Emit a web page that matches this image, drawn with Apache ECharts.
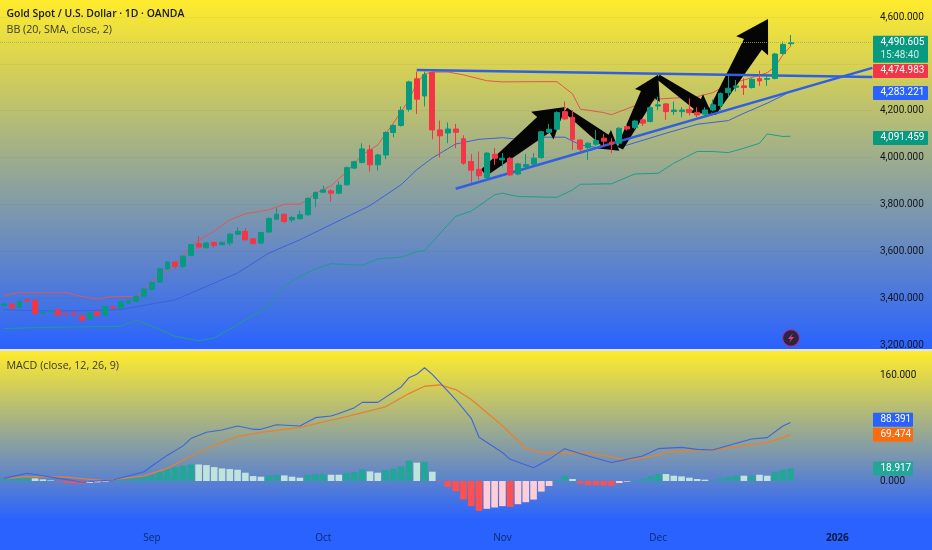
<!DOCTYPE html>
<html><head><meta charset="utf-8">
<style>html,body{margin:0;padding:0;background:#2962ff}#c{width:932px;height:550px}</style>
<script src="https://cdn.jsdelivr.net/npm/echarts@6/dist/echarts.min.js"></script>
</head><body><div id="c"></div>
<script>
const tradingDays = [
'08-05','08-06','08-07','08-08','08-11','08-12','08-13','08-14','08-15','08-18','08-19','08-20','08-21','08-22','08-25','08-26','08-27','08-28','08-29',
'09-01','09-02','09-03','09-04','09-05','09-08','09-09','09-10','09-11','09-12','09-15','09-16','09-17','09-18','09-19','09-22','09-23','09-24','09-25','09-26','09-29','09-30',
'10-01','10-02','10-03','10-06','10-07','10-08','10-09','10-10','10-13','10-14','10-15','10-16','10-17','10-20','10-21','10-22','10-23','10-24','10-27','10-28','10-29','10-30','10-31',
'11-03','11-04','11-05','11-06','11-07','11-10','11-11','11-12','11-13','11-14','11-17','11-18','11-19','11-20','11-21','11-24','11-25','11-26','11-27','11-28',
'12-01','12-02','12-03','12-04','12-05','12-08','12-09','12-10','12-11','12-12','12-15','12-16','12-17','12-18','12-19','12-22','12-23','12-24','12-25','12-26','12-29','12-30','12-31',
'01-01','01-02','01-05','01-06','01-07'];
const monthTicks = {'09-01':'Sep','10-01':'Oct','11-03':'Nov','12-01':'Dec','01-01':'2026'};
const priceTicks = [3200,3400,3600,3800,4000,4200,4600];
const macdTicks = [0,160];
// open, close, low, high
const candles = [
[3369,3375,3365,3380],[3375,3358,3352,3378],[3361,3386,3358,3390],[3393,3388,3385,3398],[3390,3334,3330,3394],
[3337,3341,3334,3344],[3344,3347,3341,3350],[3350,3327,3322,3353],[3332,3330,3327,3338],[3335,3330,3326,3345],
[3325,3305,3302,3328],[3311,3337,3308,3340],[3342,3327,3323,3345],[3327,3364,3324,3368],[3362,3357,3354,3365],
[3358,3384,3355,3388],[3378,3389,3375,3392],[3386,3408,3383,3411],[3408,3439,3405,3443],[3437,3467,3434,3470],
[3469,3525,3465,3530],[3525,3554,3522,3557],[3554,3536,3525,3557],[3536,3579,3528,3582],[3582,3628,3578,3632],
[3632,3618,3612,3666],[3616,3635,3610,3640],[3638,3625,3615,3642],[3628,3638,3625,3642],[3635,3673,3625,3677],
[3673,3685,3670,3702],[3685,3649,3646,3699],[3653,3633,3630,3657],[3635,3680,3632,3683],[3682,3740,3680,3745],
[3737,3758,3733,3784],[3758,3727,3720,3762],[3734,3744,3724,3750],[3739,3756,3735,3773],[3756,3826,3752,3830],
[3825,3851,3788,3856],[3852,3862,3848,3879],[3858,3848,3812,3864],[3848,3882,3843,3898],[3884,3957,3880,3962],
[3955,3982,3950,3986],[3979,4037,3975,4061],[4033,3969,3940,4054],[3969,4011,3945,4016],[4011,4107,3993,4112],
[4107,4137,4087,4141],[4137,4202,4132,4218],[4206,4323,4196,4328],[4336,4249,4186,4367],[4263,4354,4218,4367],
[4363,4118,4078,4367],[4118,4093,4001,4158],[4105,4122,4061,4150],[4122,4108,4040,4144],[4080,3976,3969,4095],
[3983,3946,3891,4016],[3950,3923,3905,4026],[3915,4019,3908,4024],[4014,3997,3969,4040],[3990,3997,3962,4019],
[3997,3926,3922,4002],[3930,3973,3924,3978],[3962,3970,3955,4016],[3972,3997,3968,4019],[4000,4110,3995,4114],
[4108,4121,4100,4144],[4121,4192,4115,4197],[4196,4165,4160,4239],[4172,4078,4033,4203],[4075,4036,4026,4078],
[4043,4061,3990,4066],[4057,4073,4050,4118],[4083,4070,4050,4100],[4066,4057,4019,4083],[4061,4125,4050,4130],
[4132,4122,4115,4140],[4128,4156,4122,4160],[4161,4147,4135,4165],[4154,4213,4150,4218],[4220,4225,4203,4260],
[4229,4196,4161,4233],[4196,4203,4182,4239],[4196,4203,4172,4215],[4206,4192,4180,4253],[4193,4182,4172,4215],
[4185,4203,4170,4215],[4203,4225,4198,4248],[4222,4274,4203,4278],[4277,4296,4260,4352],[4300,4306,4282,4331],
[4306,4299,4267,4338],[4299,4334,4295,4338],[4337,4327,4306,4371],[4334,4337,4306,4357],[4338,4442,4334,4447],
[4444,4483,4440,4495],[4486,4490.605,4475,4523]];
// Bollinger bands: [bar, value] read at the visible bends
const bbUpper = [[0,3412],[2,3424],[8,3424],[10,3406],[12,3397],[14,3406],[17,3407],[18,3436],[19,3469],[20,3500],[21,3521],[22,3540],[23,3578],[24,3620],[25,3646],[27,3687],[29,3734],[31,3760],[34,3777],[36,3801],[38,3801],[39,3820],[40,3848],[42,3879],[44,3940],[46,4011],[48,4054],[50,4147],[52,4246],[53,4317],[54,4357],[55,4365],[57,4365],[59,4353],[62,4328],[64,4323],[68,4324],[71,4324],[73,4272],[74,4207],[77,4192],[78,4183],[81,4221],[84,4250],[89,4260],[91,4277],[93,4314],[95,4331],[98,4362],[99,4388],[100,4438],[101,4475]];
const bbBasis = [[0,3351],[4,3346],[10,3346],[15,3351],[18,3369],[22,3393],[25,3436],[30,3507],[34,3592],[38,3649],[42,3714],[47,3795],[51,3884],[53,3948],[55,3998],[58,4058],[61,4078],[64,4085],[66,4078],[69,4087],[72,4087],[74,4054],[77,4038],[79,4043],[85,4104],[89,4142],[93,4158],[95,4189],[98,4232],[100,4265],[101,4283]];
const bbLower = [[0,3270],[5,3275],[15,3280],[17,3306],[19,3280],[22,3237],[25,3218],[27,3230],[30,3287],[34,3365],[36,3450],[38,3493],[40,3524],[42,3547],[46,3540],[48,3568],[51,3575],[53,3599],[54,3602],[56,3677],[58,3749],[60,3772],[61,3794],[63,3841],[64,3848],[66,3834],[71,3830],[73,3862],[74,3886],[78,3888],[81,3930],[84,3933],[86,3976],[89,4026],[91,4026],[93,4021],[95,4040],[97,4061],[98,4101],[100,4090],[101,4091]];
// Drawn trend lines: [fractional bar, price]
const trendFlat = [[53,4374],[111.5,4344]];
const trendRise = [[58,3867],[111.5,4383]];
// Drawn arrows: tail bar, tail price, tip bar, tip price
const arrows = [[61.6,3935,72.1,4216],[72.1,4203,79,4029],[79.1,4041,84,4353],[84,4344,90.9,4186],[90.9,4191,98.1,4591]];
const macdLine = [[0,4],[1,6.6],[3,11.6],[5,8],[7,4],[9,0.5],[10,-2],[12,0],[14,1.5],[16,8],[18,14],[19,22.7],[21,39],[23,53],[24,64],[26,73.5],[28,77],[30,83],[32,78],[33,78],[35,85],[38,83],[40,95.6],[42,98],[43,102],[45,110.7],[46,118.7],[48,118.7],[51,142],[52,156],[53,161],[54,171],[55,161],[58,123],[60,94.6],[61,66],[64,43],[65,32.7],[68,20],[70,32.7],[72,48.8],[75,37.7],[78,28],[80,32.7],[82,37.7],[84,48.8],[87,50.8],[89,47.8],[91,46.8],[94,56.9],[96,63.4],[98,65.4],[100,83],[101,88.391]];
const macdSignal = [[0,4],[3,6.6],[8,6],[10,3.5],[13,0.5],[18,7.6],[21,19],[24,37.7],[27,54],[30,67],[33,73.5],[36,78],[38,81],[44,97],[49,112],[52,132],[54,143],[56,145],[58,138],[60,123],[64,83.5],[67,49.3],[69,42.8],[72,43.3],[75,41.8],[78,36.7],[80,31.7],[83,36.7],[85,43.3],[89,46.8],[91,46.8],[94,51.8],[98,57.9],[101,69.474]];
const macdHist = [3,3.5,4,5,4,2.5,1,-1,-3,-3.5,-4,-3,-2,-1,0.5,2,3,5,6.5,9,14,19,21,23,25,25,24,21,19,18,17,12.5,7.5,6.5,8,9,8.5,6.5,5,9,10,10.5,9.5,9.5,12,13.5,17.5,14.5,12.5,16.5,18.5,22,30.7,27.7,29,14,-0.8,-9,-15.6,-28,-38,-45,-42,-40,-38,-39,-35,-32,-28,-16,-7.5,2,8,3,-4,-6,-6,-6.5,-7,-3,-1,1,3,7,10.5,10.5,8,7,5,3,2,1,3.5,6,8,8,8,9.5,8,14,17,18.917];
// t = teal, l = light teal, r = red, p = pink: one letter per histogram bar
const macdTone = 'tttt'+'lll'+'rrrr'+'ppp'+'ttttttttttt'+'lllllllll'+'tt'+'lll'+'ttt'+'ll'+'ttt'+'ll'+'tttt'+'l'+'t'+'l'+'rrrrrr'+'ppp'+'r'+'ppppp'+'tt'+'l'+'rrrrr'+'pp'+'tttt'+'llllll'+'tttt'+'l'+'t'+'ll'+'ttt';
const toneColor = {t:'#22a698',l:'#c0e3dc',r:'#ff4f4f',p:'#ffcdd6'};
// Price-scale tags
const priceTagAt = [4490.605,4370,4276,4084];
const priceTagText = ['4,490.605','4,474.983','4,283.221','4,091.459'];
const priceTagColor = ['#089981','#f23645','#2962ff','#089981'];
const macdTagAt = [92.5,69.8,18.9];
const macdTagText = ['88.391','69.474','18.917'];
const macdTagColor = ['#2962ff','#f96d10','#22a698'];

const FONT = '"Open Sans",sans-serif', NUMFONT = 'Roboto,sans-serif';
const W = 7.8, BARS = tradingDays.length;
const gridW = W*BARS, gridL = -1.2;
const Y = '#ffeb2d', B = '#2962ff';
const grad = ()=>new echarts.graphic.LinearGradient(0,0,0,1,[{offset:0,color:Y},{offset:1,color:B}]);
const money = v=>v.toLocaleString('en-US',{minimumFractionDigits:3,maximumFractionDigits:3});

function arrowItem(params, api){
  const a = api.coord([api.value(0),api.value(1)]), b = api.coord([api.value(2),api.value(3)]);
  const dx=b[0]-a[0], dy=b[1]-a[1], L=Math.hypot(dx,dy), ux=dx/L, uy=dy/L, nx=-uy, ny=ux;
  const hl=0.27*L, hw=0.17*L, nw=0.095*L, tw=0.04*L;
  const p=(t,s)=>[a[0]+ux*t+nx*s, a[1]+uy*t+ny*s];
  return {type:'polygon',shape:{points:[p(0,tw),p(L-hl,nw),p(L-hl*1.05,hw),p(L,0),p(L-hl*1.05,-hw),p(L-hl,-nw),p(0,-tw)]},style:{fill:'#050505'}};
}
function tagItem(textList,colorList,w,h,countdown){
  return function(params, api){
    const i=params.dataIndex, y=api.coord([0,api.value(1)])[1];
    const extra = countdown && i===0;
    const top = y-(h/2), ht = extra ? h+13 : h;
    const kids=[{type:'rect',shape:{x:873,y:top,width:w,height:ht,r:1},style:{fill:colorList[i]}},
      {type:'text',style:{x:880.5,y:y,text:textList[i],fill:'#fff',font:'10px '+NUMFONT,verticalAlign:'middle',align:'left'}}];
    if(extra) kids.push({type:'text',style:{x:880.5,y:y+12.5,text:countdown,fill:'#cdebe6',font:'10px '+NUMFONT,verticalAlign:'middle',align:'left'}});
    return {type:'group',children:kids};
  };
}
const thinLine=(data,color,w,xi,yi,z)=>({type:'line',data,xAxisIndex:xi,yAxisIndex:yi,z,clip:false,showSymbol:false,symbol:'none',silent:true,lineStyle:{color,width:w},animation:false});

const chart = echarts.init(document.getElementById('c'),null,{width:932,height:550,renderer:'canvas'});
const catAxis = (gridIndex,show)=>({type:'category',gridIndex,data:tradingDays,boundaryGap:true,
  axisLine:{show:false},axisTick:{show:false},splitLine:{show:false},
  axisLabel:{show,interval:(i,v)=>!!monthTicks[v],margin:-1,color:'#0d2a6e',fontFamily:FONT,fontSize:10,
    formatter:v=>monthTicks[v]==='2026'?'{b|2026}':(monthTicks[v]||''),rich:{b:{fontWeight:700,color:'#0a1a3c',fontFamily:FONT,fontSize:10}}}});
const valAxis = gridIndex=>({type:'value',gridIndex,min:-0.5,max:BARS-0.5,show:false});
chart.setOption({
  animation:false,
  backgroundColor:B,
  graphic:[
    {type:'rect',z:-10,shape:{x:0,y:0,width:932,height:349},style:{fill:grad()},silent:true},
    {type:'rect',z:-9,shape:{x:0,y:349,width:932,height:2},style:{fill:'#dfe3ea'},silent:true},
    {type:'rect',z:-10,shape:{x:0,y:351,width:932,height:169},style:{fill:grad()},silent:true},
    {type:'circle',z:50,shape:{cx:791,cy:338,r:8.5},style:{fill:'#2c2540',stroke:'#8a3fb0',lineWidth:1.3},silent:true},
    {type:'polygon',z:51,shape:{points:[[793,333],[788,339],[791,339],[789,343],[794,337],[791,337]]},style:{fill:'#e0407a'},silent:true}
  ],
  title:[
    {text:'Gold Spot / U.S. Dollar · 1D · OANDA',left:6.5,top:9.5,textStyle:{fontFamily:FONT,fontWeight:600,fontSize:10.4,color:'#131722'},padding:0},
    {text:'BB (20, SMA, close, 2)',left:6.5,top:24.5,textStyle:{fontFamily:FONT,fontWeight:400,fontSize:10.7,color:'#3a3a2c'},padding:0},
    {text:'MACD (close, 12, 26, 9)',left:6.5,top:360.5,textStyle:{fontFamily:FONT,fontWeight:400,fontSize:10.7,color:'#3a3a2c'},padding:0}
  ],
  grid:[
    {left:gridL,top:17,width:gridW,height:328,containLabel:false},
    {left:gridL,top:375,width:gridW,height:159,containLabel:false}
  ],
  xAxis:[catAxis(0,false),catAxis(1,true),valAxis(0),valAxis(1)],
  yAxis:[
    {type:'value',gridIndex:0,position:'right',min:3200,max:4600,interval:200,
     axisLine:{show:false},axisTick:{show:false},splitLine:{show:true,lineStyle:{color:'rgba(60,60,60,0.05)',width:1}},
     axisLabel:{margin:7.5,padding:[4,0,0,0],color:'#14161c',fontFamily:NUMFONT,fontSize:10,formatter:v=>priceTicks.includes(v)?money(v):''}},
    {type:'value',gridIndex:1,position:'right',min:-80,max:160,interval:80,
     axisLine:{show:false},axisTick:{show:false},splitLine:{show:false},
     axisLabel:{margin:7.5,padding:[4,0,0,0],color:v=>v===0?'#0d2a6e':'#14161c',fontFamily:NUMFONT,fontSize:10,formatter:v=>macdTicks.includes(v)?money(v):''}}
  ],
  series:[
    thinLine(bbLower,'#1f9d8a',1,0,0,1),
    thinLine(bbBasis,'#3a62dc',1,0,0,1),
    thinLine(bbUpper,'#e2574f',1,0,0,1),
    {type:'custom',xAxisIndex:2,yAxisIndex:0,data:arrows,renderItem:arrowItem,encode:{x:[0,2],y:[1,3]},silent:true,z:1.5},
    thinLine(trendFlat,'#2f60e3',2.4,2,0,2),
    thinLine(trendRise,'#2f60e3',2.4,2,0,2),
    {type:'candlestick',xAxisIndex:0,yAxisIndex:0,data:candles,barWidth:5.4,silent:true,z:3,
     itemStyle:{color:'#089981',color0:'#f23645',borderColor:'#089981',borderColor0:'#f23645',borderWidth:1},
     markLine:{silent:true,symbol:'none',label:{show:false},animation:false,
       data:[{yAxis:4490.605}],lineStyle:{color:'#8fb060',type:'dotted',width:1,opacity:0.8}}},
    {type:'custom',xAxisIndex:2,yAxisIndex:0,data:priceTagAt.map(v=>[0,v]),renderItem:tagItem(priceTagText,priceTagColor,55,14,'15:48:40'),clip:false,silent:true,z:20},
    {type:'bar',xAxisIndex:1,yAxisIndex:1,barWidth:6.6,silent:true,
     data:macdHist.map((v,i)=>({value:v,itemStyle:{color:toneColor[macdTone[i]]}}))},
    thinLine(macdSignal,'#e8802f',1.3,1,1,3),
    thinLine(macdLine,'#3d66d6',1.1,1,1,3),
    {type:'custom',xAxisIndex:3,yAxisIndex:1,data:macdTagAt.map(v=>[0,v]),renderItem:tagItem(macdTagText,macdTagColor,40,14),clip:false,silent:true,z:20}
  ]
});
</script></body></html>
